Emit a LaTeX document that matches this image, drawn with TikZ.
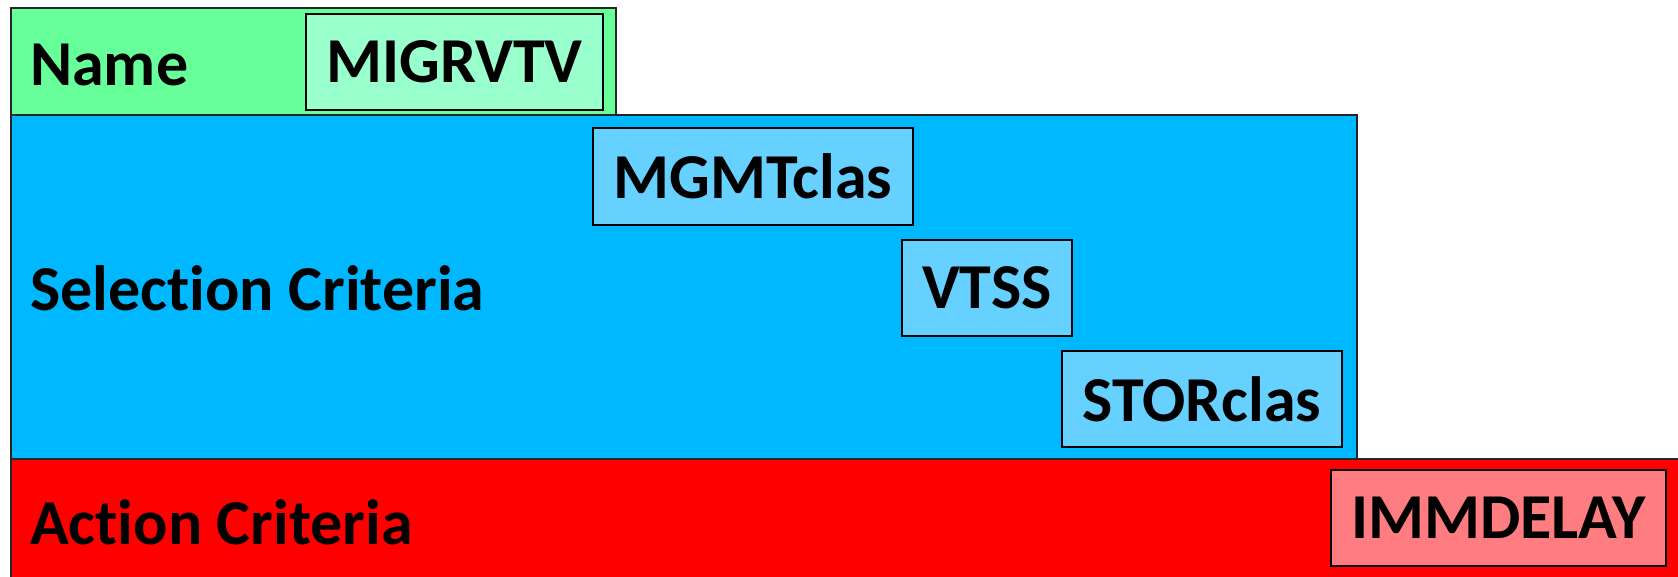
\documentclass[tikz,border=0pt]{standalone}
\usepackage{fontspec}
\setmainfont{Carlito}[Ligatures={NoCommon}]
\definecolor{ngreen}{HTML}{66FF99}
\definecolor{lgreen}{HTML}{99FFCC}
\definecolor{nblue}{HTML}{00B8FF}
\definecolor{lblue}{HTML}{66D0FF}
\definecolor{nred}{HTML}{FF0000}
\definecolor{lred}{HTML}{FF7C80}
\tikzset{
  band/.style={draw=black!85, line width=1.5pt, rectangle, inner sep=0pt, anchor=north west},
  tag/.style={draw=black, line width=2pt, rectangle, inner sep=0pt, anchor=north west,
    font=\fontsize{64}{64}\selectfont\bfseries},
  lbl/.style={anchor=base west, inner sep=0pt, font=\fontsize{64}{64}\selectfont\bfseries}
}
\begin{document}
\begin{tikzpicture}[x=1pt,y=-1pt]
\clip (0,0) rectangle (1678,577);
\fill[white] (0,0) rectangle (1678,577);
% bands
\node[band, fill=ngreen, minimum width=605pt, minimum height=107pt] (nameband) at (10,7.5) {};
\node[band, fill=nblue, minimum width=1346pt, minimum height=343pt] (selband) at (10,114.5) {};
\node[band, fill=nred, minimum width=1690pt, minimum height=140pt] (actband) at (10,458) {};
% labels
\node[lbl] (namelbl) at (30,86) {Name};
\node[lbl] (sellbl) at (30,310) {Selection Criteria};
\node[lbl] (actlbl) at (30,544) {Action Criteria};
% tags
\node[tag, fill=lgreen, minimum width=297pt, minimum height=96pt] (migr) at (305,13) {MIGRVTV};
\node[tag, fill=lblue, minimum width=320pt, minimum height=97pt] (mgmt) at (592,127) {MGMTclas};
\node[tag, fill=lblue, minimum width=170pt, minimum height=96pt] (vtss) at (901,239) {VTSS};
\node[tag, fill=lblue, minimum width=280pt, minimum height=96pt] (stor) at (1061,350) {STORclas};
\node[tag, fill=lred, minimum width=335pt, minimum height=96pt] (imm) at (1330,469) {IMMDELAY};
\end{tikzpicture}
\end{document}
